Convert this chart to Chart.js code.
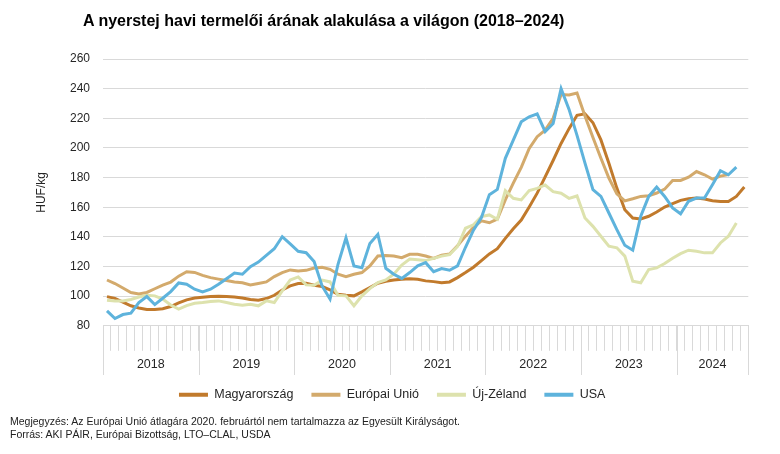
<!DOCTYPE html>
<html lang="hu">
<head>
<meta charset="utf-8">
<title>A nyerstej havi termelői árának alakulása a világon</title>
<script src="https://cdn.jsdelivr.net/npm/chart.js@4.4.1/dist/chart.umd.min.js"></script>
<style>
  body { margin: 0; background: #fff; font-family: "Liberation Sans", Arial, sans-serif; }
  #wrap { position: relative; width: 780px; height: 454px; }
  #chart { position: absolute; left: 0; top: 0; }
  .title { position: absolute; left: 83px; top: 11px; font-size: 16px; line-height: 19px; font-weight: bold; color: #000; white-space: nowrap; }
  .notes { position: absolute; left: 10px; top: 415px; font-size: 10.5px; line-height: 13px; color: #222; white-space: nowrap; }
</style>
</head>
<body>
<div id="wrap">
  <canvas id="chart" width="780" height="454"></canvas>
  <div class="title">A nyerstej havi termelői árának alakulása a világon (2018–2024)</div>
  <div class="notes">Megjegyzés: Az Európai Unió átlagára 2020. februártól nem tartalmazza az Egyesült Királyságot.<br>Forrás: AKI PÁIR, Európai Bizottság, LTO–CLAL, USDA</div>
</div>
<script>
// years on the axis and how many months each has in the data
const years = ["2018", "2019", "2020", "2021", "2022", "2023", "2024"];
const monthsInYear = [12, 12, 12, 12, 12, 12, 9];
const yTicks = [80, 100, 120, 140, 160, 180, 200, 220, 240, 260];

// HUF/kg, monthly from January 2018
const magyarorszag = [
  99.7, 98.5, 96, 93.5, 92, 91, 91, 91.5, 93, 95.5, 97.5, 98.8,
  99.3, 99.7, 100, 99.7, 99.5, 98.8, 97.7, 97.3, 98.4, 100.6, 104.2, 106.9,
  108.5, 108.7, 107.4, 106.5, 104.2, 101.3, 100.6, 100.2, 102.9, 105.8, 108.7, 110,
  110.9, 111.4, 111.8, 111.4, 110.3, 109.8, 109.1, 109.6, 112.5, 115.9, 119.5, 124,
  128.5, 132, 139, 145.5, 151.3, 160.2, 169.5, 180.5, 191.5, 203, 213, 222,
  223, 217, 205.4, 189.7, 172.9, 158.3, 152.7, 152.1, 153.9, 156.8, 160.1, 162.4,
  164.6, 165.7, 166.2, 165.5, 164.4, 163.9, 163.9, 167.3, 173.6
];
const europaiUnio = [
  110.9, 108.5, 105.5, 102.5, 101.5, 102.5, 105, 107.5, 109.5, 113.5, 116.5, 116,
  114, 112.5, 111.5, 110.5, 109.5, 109, 107.5, 108.5, 109.6, 113.2, 115.9, 117.7,
  117, 117.4, 119, 119.5, 118.1, 114.8, 113.2, 114.8, 115.9, 120.4, 127.1, 127.5,
  127.1, 126, 128.2, 128.2, 127.1, 125.5, 127.7, 128.4, 134, 140.5, 146.5, 150.8,
  149.5, 152, 165, 176.2, 186.9, 199.7, 207.6, 212, 220, 236, 235.7, 237,
  221.5, 207, 193, 179.7, 169, 164.3, 165.7, 167.3, 167.8, 169.6, 172.2, 178.1,
  178.1, 180.3, 184.1, 181.9, 179, 181, 182
];
const ujZeland = [
  97.3, 96.8, 96.8, 97.8, 99.4, 100.6, 100.2, 98, 94, 91.3, 93.6, 95.2,
  95.7, 96.4, 96.8, 95.7, 94.6, 93.9, 94.6, 93.5, 96.8, 95.7, 103.5, 110.9,
  113, 107.6, 107.4, 110.9, 109.6, 100.6, 100.2, 93.5, 100.2, 105.1, 109.1, 110.9,
  114.8, 121, 125, 124.5, 124, 125.5, 127, 128, 133.5, 145.8, 148.1, 153.7,
  154.8, 151.9, 171.2, 166, 164.9, 171.2, 172.7, 175, 170.5, 169.4, 166, 167.6,
  152.7, 147.1, 140.4, 133.7, 132.6, 127, 110.1, 109, 118, 119.1, 122, 125.6,
  128.7, 131, 130.3, 129.2, 129.2, 135.9, 140.4, 149.4
];
const usa = [
  90.1, 84.9, 87.6, 88.5, 95.7, 99.7, 94.3, 98.6, 103.1, 108.9, 108, 104.7,
  102.9, 104.7, 108, 111.8, 115.6, 114.8, 119.9, 123, 127.5, 132, 140.1, 135.2,
  130.3, 129.3, 123.3, 106.9, 98, 121.5, 139.4, 120.4, 119.2, 135.6, 141.7, 118.8,
  114.8, 112, 115.9, 120.4, 122.6, 116.5, 118.6, 117.5, 120.4, 133, 144.5, 153,
  168.5, 172, 193, 205.2, 217.6, 221, 223, 211, 216.5, 240, 226, 208.5,
  189.7, 171.8, 167.3, 156.1, 144.9, 134.3, 131, 153.9, 167.3, 173.6, 167.3, 159.5,
  155.6, 164, 166.2, 166.2, 175.2, 184.6, 181.9, 187
];

const labels = [];
years.forEach((y, k) => {
  for (let m = 1; m <= monthsInYear[k]; m++) labels.push(y + "-" + String(m).padStart(2, "0"));
});

const gridColor = "#d9d9d9";
const textColor = "#262626";

// year names and the long separators under the month ticks
const yearAxis = {
  id: "yearAxis",
  afterLayout(chart) {
    // move the legend a bit right, like the original
    chart.legend.left += 18;
    chart.legend.right += 18;
  },
  afterDraw(chart) {
    const x = chart.scales.x;
    const ctx = chart.ctx;
    const half = (x.getPixelForValue(1) - x.getPixelForValue(0)) / 2;
    const top = Math.round(chart.chartArea.bottom);
    ctx.save();
    ctx.strokeStyle = gridColor;
    ctx.lineWidth = 1;
    ctx.fillStyle = textColor;
    ctx.font = "12.5px 'Liberation Sans', Arial, sans-serif";
    ctx.textAlign = "center";
    ctx.textBaseline = "middle";
    let start = 0;
    years.forEach((y, k) => {
      const end = start + monthsInYear[k] - 1;
      const left = x.getPixelForValue(start) - half;
      const right = x.getPixelForValue(end) + half;
      [left, right].forEach(px => {
        const p = Math.round(px) + 0.5;
        ctx.beginPath();
        ctx.moveTo(p, top);
        ctx.lineTo(p, top + 49);
        ctx.stroke();
      });
      ctx.fillText(y, (left + right) / 2, top + 39);
      start = end + 1;
    });
    ctx.restore();
  }
};

const series = [
  { label: "Magyarország", data: magyarorszag, color: "#c17a2c" },
  { label: "Európai Unió", data: europaiUnio, color: "#d3aa6c" },
  { label: "Új-Zéland", data: ujZeland, color: "#dde2ad" },
  { label: "USA", data: usa, color: "#5eb3dc" }
];

new Chart(document.getElementById("chart"), {
  type: "line",
  data: {
    labels: labels,
    datasets: series.map((s, i) => ({
      label: s.label,
      data: s.data,
      borderColor: s.color,
      backgroundColor: s.color,
      borderWidth: 3,
      pointRadius: 0,
      tension: 0,
      order: series.length - i
    }))
  },
  options: {
    responsive: false,
    animation: false,
    layout: { padding: { top: 59, right: 31.7, bottom: 43, left: 0 } },
    plugins: {
      title: { display: false },
      tooltip: { enabled: false },
      legend: {
        position: "bottom",
        labels: {
          boxWidth: 29,
          boxHeight: 4,
          padding: 18,
          color: textColor,
          font: { family: "'Liberation Sans', Arial, sans-serif", size: 12.5 },
          generateLabels: chart => chart.data.datasets.map((ds, i) => ({
            text: ds.label,
            fillStyle: ds.borderColor,
            strokeStyle: ds.borderColor,
            lineWidth: 0,
            datasetIndex: i,
            hidden: false,
            fontColor: textColor
          }))
        }
      }
    },
    scales: {
      x: {
        type: "category",
        offset: true,
        grid: { offset: true, drawOnChartArea: false, drawTicks: true, tickLength: 25, color: gridColor },
        border: { color: gridColor },
        ticks: { display: false },
        afterFit: s => { s.height = 44.7; }
      },
      y: {
        min: 80,
        max: 260,
        afterBuildTicks: s => { s.ticks = yTicks.map(v => ({ value: v })); },
        ticks: { padding: 13, color: textColor, font: { family: "'Liberation Sans', Arial, sans-serif", size: 12 } },
        grid: { color: gridColor, drawTicks: false },
        border: { display: false },
        title: {
          display: true,
          text: "HUF/kg",
          color: textColor,
          padding: { top: 34, bottom: 0 },
          font: { family: "'Liberation Sans', Arial, sans-serif", size: 12 }
        },
        afterFit: s => { s.width = 103; }
      }
    }
  },
  plugins: [yearAxis]
});
</script>
</body>
</html>
